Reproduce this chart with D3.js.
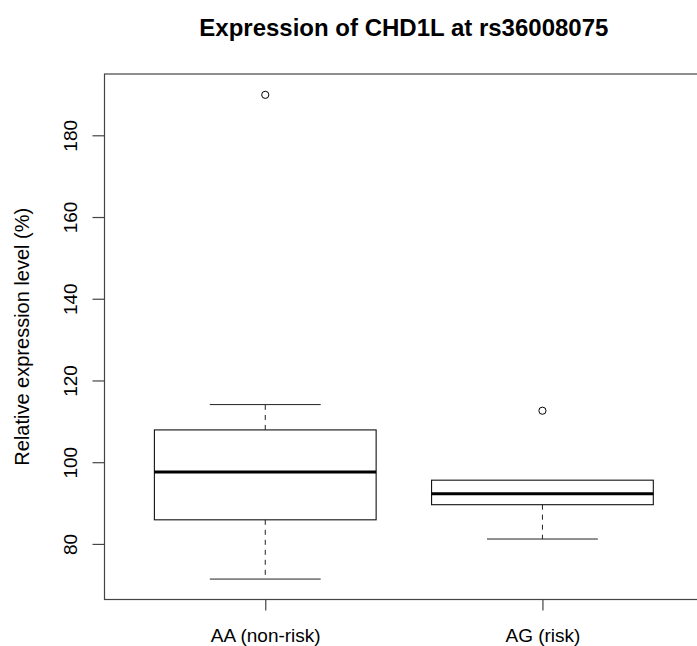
<!DOCTYPE html>
<html>
<head>
<meta charset="utf-8">
<script src="https://cdn.jsdelivr.net/npm/d3@7"></script>
<style>
  html, body { margin: 0; padding: 0; background: #fff; }
  svg { display: block; }
  text { font-family: "Liberation Sans", Arial, sans-serif; fill: #000; }
</style>
</head>
<body>
<svg id="chart" width="697" height="646"></svg>
<script>
// ---- data ----
const categories   = ["AA (non-risk)", "AG (risk)"];
const lowerWhisker = [71.4, 81.2];
const q1           = [85.9, 89.6];
const median       = [97.6, 92.3];
const q3           = [107.9, 95.6];
const upperWhisker = [114.1, 95.6];
const outliers     = [[189.9], [112.6]];
const yTicks       = [80, 100, 120, 140, 160, 180];
const titleText    = "Expression of CHD1L at rs36008075";
const yLabel       = "Relative expression level (%)";

// ---- layout ----
const W = 697, H = 646;
const plot = { left: 104.5, right: 703.2, top: 74, bottom: 599.5 };

const svg = d3.select("#chart");

const x = d3.scaleLinear().domain([0.42, 2.58]).range([plot.left, plot.right]);
const y = d3.scaleLinear().domain([66.4, 195.0]).range([plot.bottom, plot.top]);

const boxHalf = 0.4, capHalf = 0.2;

const data = categories.map((c, i) => ({
  cat: c, pos: i + 1,
  lo: lowerWhisker[i], q1: q1[i], med: median[i], q3: q3[i], hi: upperWhisker[i],
  out: outliers[i]
}));

const g = svg.append("g");

data.forEach(d => {
  const cx = x(d.pos);
  const xl = x(d.pos - boxHalf), xr = x(d.pos + boxHalf);
  const cl = x(d.pos - capHalf), cr = x(d.pos + capHalf);
  // whiskers (dashed)
  if (d.q1 > d.lo) {
    g.append("line").attr("x1", cx).attr("x2", cx).attr("y1", y(d.q1)).attr("y2", y(d.lo))
      .attr("stroke", "#222").attr("stroke-width", 1).attr("stroke-dasharray", "5,5");
    g.append("line").attr("x1", cl).attr("x2", cr).attr("y1", y(d.lo)).attr("y2", y(d.lo))
      .attr("stroke", "#222").attr("stroke-width", 1);
  }
  if (d.hi > d.q3) {
    g.append("line").attr("x1", cx).attr("x2", cx).attr("y1", y(d.q3)).attr("y2", y(d.hi))
      .attr("stroke", "#222").attr("stroke-width", 1).attr("stroke-dasharray", "5,5");
    g.append("line").attr("x1", cl).attr("x2", cr).attr("y1", y(d.hi)).attr("y2", y(d.hi))
      .attr("stroke", "#222").attr("stroke-width", 1);
  }
  // box
  g.append("rect").attr("x", xl).attr("y", y(d.q3)).attr("width", xr - xl).attr("height", y(d.q1) - y(d.q3))
    .attr("fill", "none").attr("stroke", "#111").attr("stroke-width", 1.1);
  // median
  g.append("line").attr("x1", xl).attr("x2", xr).attr("y1", y(d.med)).attr("y2", y(d.med))
    .attr("stroke", "#000").attr("stroke-width", 3);
  // outliers
  d.out.forEach(v => {
    g.append("circle").attr("cx", cx).attr("cy", y(v)).attr("r", 3.6)
      .attr("fill", "none").attr("stroke", "#000").attr("stroke-width", 1);
  });
});

// frame
svg.append("rect").attr("x", plot.left).attr("y", plot.top)
  .attr("width", plot.right - plot.left).attr("height", plot.bottom - plot.top)
  .attr("fill", "none").attr("stroke", "#444").attr("stroke-width", 1.2);

// y axis
const yAxis = svg.append("g").attr("transform", `translate(${plot.left},0)`)
  .call(d3.axisLeft(y).tickValues(yTicks).tickSize(12).tickFormat(d3.format("d")));
yAxis.select(".domain").remove();
yAxis.selectAll(".tick line").attr("stroke", "#444").attr("stroke-width", 1.2);
yAxis.selectAll(".tick text")
  .attr("transform", "rotate(-90)")
  .attr("x", 0).attr("y", -28).attr("dy", 0)
  .attr("text-anchor", "middle")
  .style("font-size", "19px")
  .style("font-family", "'Liberation Sans', Arial, sans-serif")
  .attr("fill", "#000");

// x axis
const xAxis = svg.append("g").attr("transform", `translate(0,${plot.bottom})`)
  .call(d3.axisBottom(x).tickValues(data.map(d => d.pos)).tickSize(11)
    .tickFormat((d, i) => categories[i]));
xAxis.select(".domain").remove();
xAxis.selectAll(".tick line").attr("stroke", "#444").attr("stroke-width", 1.2);
xAxis.selectAll(".tick text")
  .attr("y", 642 - plot.bottom).attr("dy", 0)
  .style("font-size", "19px")
  .style("font-family", "'Liberation Sans', Arial, sans-serif")
  .attr("fill", "#000");

// title
svg.append("text")
  .attr("x", (plot.left + plot.right) / 2).attr("y", 36)
  .attr("text-anchor", "middle")
  .style("font-size", "24px").style("font-weight", "bold")
  .text(titleText);

// y label
svg.append("text")
  .attr("transform", `translate(29,${(plot.top + plot.bottom) / 2}) rotate(-90)`)
  .attr("text-anchor", "middle")
  .style("font-size", "20px")
  .text(yLabel);
</script>
</body>
</html>
